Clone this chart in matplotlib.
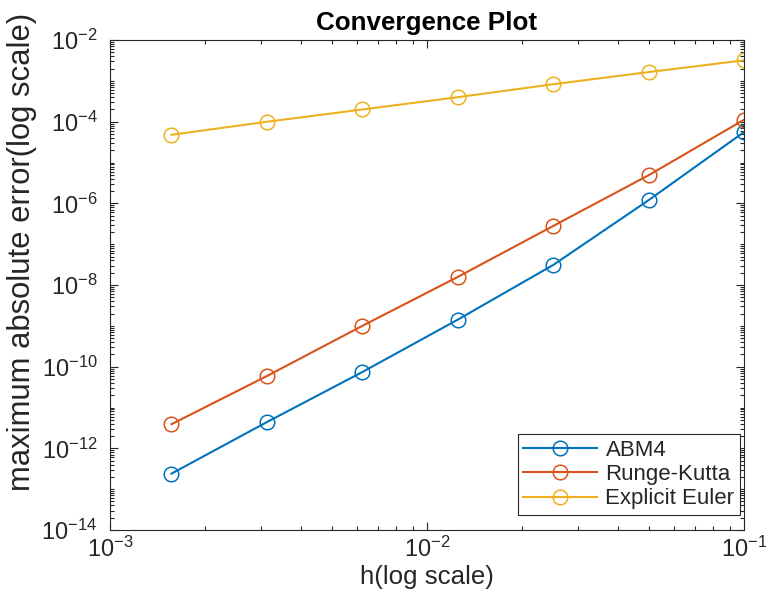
import numpy as np
import matplotlib
matplotlib.use('Agg')
import matplotlib.pyplot as plt
from matplotlib.ticker import LogLocator, NullFormatter

# === Data ===
h = [0.1, 0.05, 0.025, 0.0125, 0.00625, 0.003125, 0.0015625]
err_abm4 = [5.6e-5, 1.2e-6, 3.1e-8, 1.42e-9, 7.4e-11, 4.4e-12, 2.4e-13]
err_rk = [1.12e-4, 4.9e-6, 2.8e-7, 1.58e-8, 1.0e-9, 5.9e-11, 3.9e-12]
err_euler = [3.2e-3, 1.65e-3, 8.3e-4, 4.0e-4, 2.0e-4, 1.0e-4, 4.8e-5]
labels = ['ABM4', 'Runge-Kutta', 'Explicit Euler']

plt.rcParams['font.family'] = ['Liberation Sans', 'DejaVu Sans']
plt.rcParams['mathtext.fontset'] = 'custom'
plt.rcParams['mathtext.rm'] = 'Liberation Sans'
dark = '#262626'

fig = plt.figure(figsize=(7.66, 6.08), dpi=100)
ax = fig.add_axes([0.1436, 0.1283, 0.8277, 0.8057])

colors = ['#0072BD', '#D95319', '#EDB120']
for y, lab, c in zip([err_abm4, err_rk, err_euler], labels, colors):
    ax.loglog(h, y, '-o', color=c, label=lab, linewidth=1.5,
              markersize=10.5, markerfacecolor='none', markeredgewidth=1.1)

ax.set_xlim(1e-3, 1e-1)
ax.set_ylim(1e-14, 1e-2)
ax.set_xticks([1e-3, 1e-2, 1e-1])
ax.set_yticks([1e-14, 1e-12, 1e-10, 1e-8, 1e-6, 1e-4, 1e-2])
ax.xaxis.set_minor_locator(LogLocator(base=10, subs=np.arange(1, 10), numticks=100))
ax.yaxis.set_minor_locator(LogLocator(base=10, subs=np.arange(1, 10), numticks=100))
ax.xaxis.set_minor_formatter(NullFormatter())
ax.yaxis.set_minor_formatter(NullFormatter())

ax.tick_params(which='both', direction='in', top=True, right=True,
               colors=dark, labelsize=17, width=0.8)
ax.tick_params(which='major', length=6)
ax.tick_params(which='minor', length=3)
ax.tick_params(axis='x', which='major', pad=5)
ax.tick_params(axis='y', which='major', pad=9)
for s in ax.spines.values():
    s.set_color(dark)
    s.set_linewidth(0.8)

ax.set_title('Convergence Plot', fontsize=18.7, fontweight='bold', color='black', pad=7)
ax.set_xlabel('h(log scale)', fontsize=18.6, color=dark, labelpad=2)
ax.set_ylabel('maximum absolute error(log scale)', fontsize=22.3, color=dark)
ax.yaxis.set_label_coords(-0.115, 0.567)

leg = ax.legend(loc='lower right', bbox_to_anchor=(0.9937, 0.0306), borderaxespad=0,
                fontsize=16, handlelength=3.3, fancybox=False, framealpha=1,
                edgecolor=dark, borderpad=0.25, labelspacing=0.15, handletextpad=0.4)
leg.get_frame().set_linewidth(0.8)
for t in leg.get_texts():
    t.set_color(dark)

fig.savefig('out.png', dpi=100)
